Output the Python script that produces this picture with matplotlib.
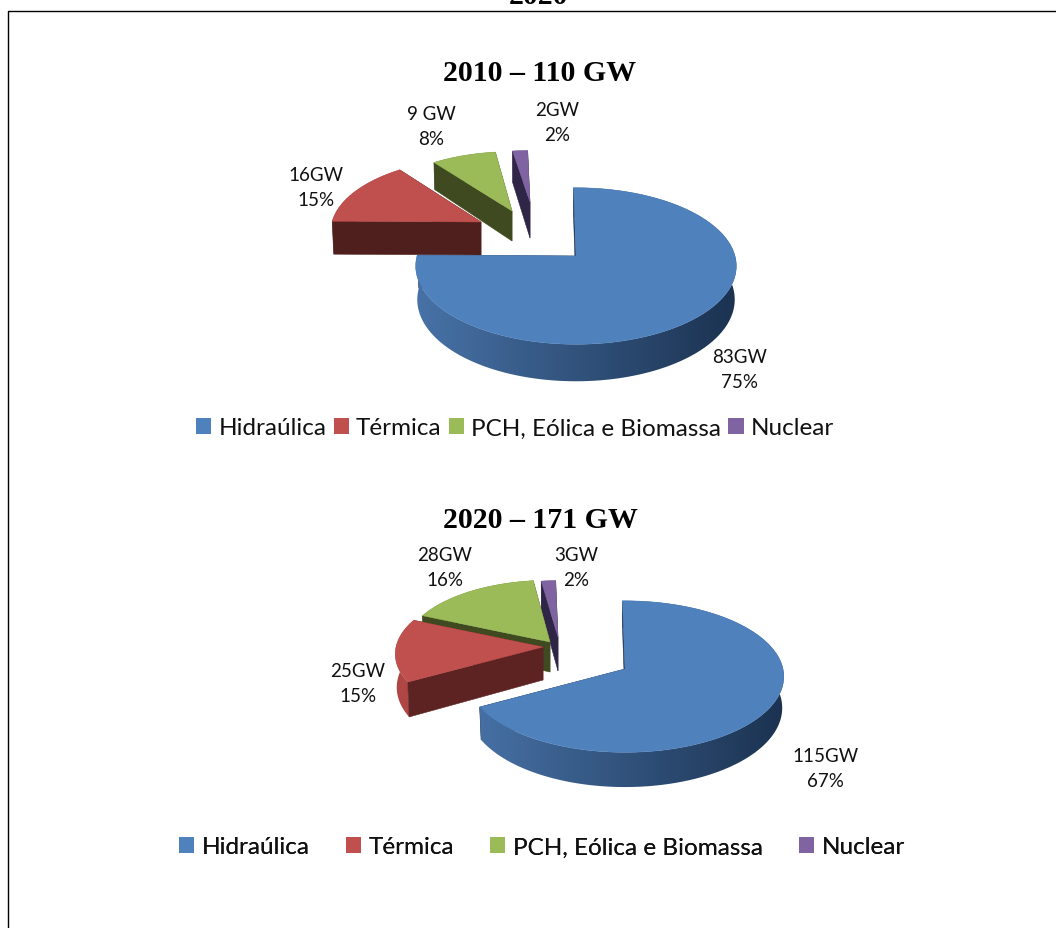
import numpy as np
import matplotlib
matplotlib.use("Agg")
import matplotlib.pyplot as plt
from matplotlib.patches import Polygon, Rectangle
from matplotlib.colors import to_rgb

# data
fontes = ["Hidraúlica", "Térmica", "PCH, Eólica e Biomassa", "Nuclear"]
gw_2010 = [83, 16, 9, 2]
gw_2020 = [115, 25, 28, 3]
rotulos_2010 = ["83GW\n75%", "16GW\n15%", "9 GW\n8%", "2GW\n2%"]
rotulos_2020 = ["115GW\n67%", "25GW\n15%", "28GW\n16%", "3GW\n2%"]
titulo_2010 = "2010 – 110 GW"
titulo_2020 = "2020 – 171 GW"

# colours: top, wall, outer wall left, outer wall right
cores = ["#4f81bd", "#c0504d", "#9bbb59", "#8064a2"]
paredes = ["#1c3350", "#4e1f1c", "#3f4a20", "#2f2647"]
paredes_2020 = ["#1c3350", "#5c2322", "#3f4a20", "#2f2647"]
curva_esq = ["#4873a8", "#b04744", "#5a6b30", "#3a2f58"]
curva_dir = ["#1b3250", "#8c3330", "#3f4a20", "#2f2647"]

# layout, pixels: apex of the first slice, explode shift, radii and depth per slice
layout_2010 = dict(apex=(576, 257), k=0.128,
                   shift=[(0, 0), (-95, -34), (-64, -45), (-46, -54)],
                   r=[159, 149, 143, 150], h=[77, 72, 67, 58], d=[33, 33, 30, 36])
layout_2020 = dict(apex=(625, 670), k=0.10,
                   shift=[(0, 0), (-82, -22), (-75, -27), (-67, -32)],
                   r=[158, 147, 145, 145], h=[75, 69, 68, 62], d=[31, 33, 30, 34])
pos_2010 = [(740, 370), (316, 188), (431, 127), (557, 123)]
pos_2020 = [(825, 769), (358, 684), (445, 568), (576, 568)]

plt.rcParams["font.family"] = ["Lato", "DejaVu Sans"]
fig = plt.figure(figsize=(10.56, 9.29), dpi=100)
ax = fig.add_axes([0, 0, 1, 1])


def fatia(ax, i, t0, t1, lay, par):
    ax_, ay_ = lay["apex"]
    sx, sy = lay["shift"][i]
    ox, oy = ax_ + sx, ay_ + sy
    r, h, d, k = lay["r"][i], lay["h"][i], lay["d"][i], lay["k"]
    t = np.radians(np.linspace(t0, t1, 200))
    w = 1 + k * np.cos(t)
    x = ox + r * np.sin(t) / w
    y = oy - h * np.cos(t) / w
    # far points drop a bit less than near ones
    dz = d * (1 - 0.12 * np.cos(t))
    xb = ox + (x - ox) * 0.99
    yb = y + dz
    z = 6 - i

    def parede(j, zz):
        ax.add_patch(Polygon([(x[j], y[j]), (ox, oy), (ox, oy + d), (xb[j], yb[j])],
                             closed=True, fc=par[i], ec=par[i], lw=0.4, zorder=zz))

    # end wall sits behind the curved one, start wall in front of it
    parede(-1, z)

    # curved wall with a gradient along x, clipped to the band under the rim
    c0, c1 = np.array(to_rgb(curva_esq[i])), np.array(to_rgb(curva_dir[i]))
    grad = np.linspace(0, 1, 256)[None, :, None] * (c1 - c0) + c0
    im = ax.imshow(grad, extent=(ox - r * 1.03, ox + r * 1.03, oy + h + d + 20, oy - h),
                   aspect="auto", zorder=z + 0.1, interpolation="bilinear")
    banda = Polygon(list(zip(x, y)) + list(zip(xb[::-1], yb[::-1])), closed=True,
                    transform=ax.transData, fc="none", ec="none")
    im.set_clip_path(banda)

    parede(0, z + 0.2)
    pts = [(ox, oy)] + list(zip(x, y))
    ax.add_patch(Polygon(pts, closed=True, fc=cores[i], ec=cores[i], lw=0.3, zorder=z + 0.5))


def pizza(ax, valores, lay, par, rotulos, pos, titulo, ty):
    ang = np.cumsum([0] + list(valores)) / sum(valores) * 360 - 1
    for i in range(len(valores)):
        fatia(ax, i, ang[i], ang[i + 1], lay, par)
    ax.text(540, ty, titulo, ha="center", va="center", fontsize=21.5, fontweight="bold",
            family="Liberation Serif", color="black")
    for s, (x, y) in zip(rotulos, pos):
        ax.text(x, y, s, ha="center", va="center", fontsize=13.5, linespacing=1.55, color="#111111", zorder=10)


def legenda(ax, y, x, espaco):
    hs = [Rectangle((0, 0), 1, 1, fc=c, ec="none") for c in cores]
    lg = ax.legend(hs, fontes, ncol=4, loc="center", bbox_to_anchor=(x, y), bbox_transform=ax.transData,
                   frameon=False, fontsize=17.5, handlelength=0.62, handleheight=0.62,
                   handletextpad=0.3, columnspacing=espaco, labelcolor="#111111")
    ax.add_artist(lg)


pizza(ax, gw_2010, layout_2010, paredes, rotulos_2010, pos_2010, titulo_2010, 73)
pizza(ax, gw_2020, layout_2020, paredes_2020, rotulos_2020, pos_2020, titulo_2020, 520)
legenda(ax, 429, 515, 0.3)
legenda(ax, 848, 542, 1.5)

# frame of the page and the cut off heading above it
ax.plot([8, 8, 1056], [929, 12, 12], color="black", lw=1.0, clip_on=False, zorder=12)
ax.text(539, 4, "2020", ha="center", va="baseline", fontsize=21.5, fontweight="bold",
        family="Liberation Serif", color="black")

ax.set_xlim(0, 1056)
ax.set_ylim(929, 0)
ax.axis("off")
fig.savefig("out.png", dpi=100)
